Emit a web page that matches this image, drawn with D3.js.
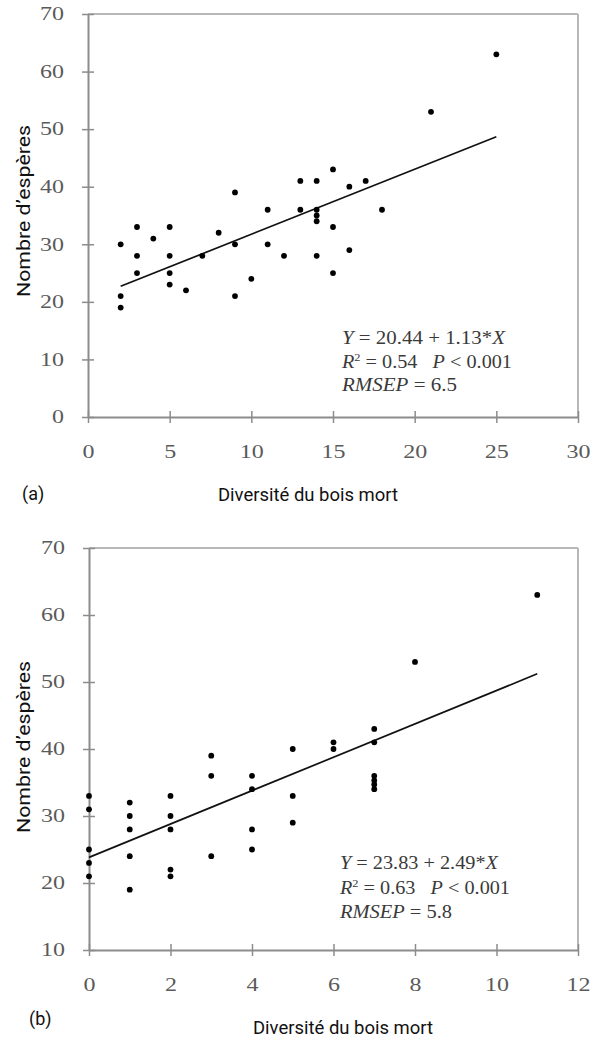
<!DOCTYPE html>
<html><head><meta charset="utf-8">
<script src="https://cdn.jsdelivr.net/npm/d3@7"></script>
<style>body{margin:0;background:#fff}svg{display:block}</style>
</head><body><svg id="c" width="604" height="1038"></svg>
<script>
// ---- data (a) ----
const aX = [2,2,2,3,3,3,4,5,5,5,5,6,7,8,9,9,9,10,11,11,12,13,13,14,14,14,14,14,15,15,15,16,16,17,18,21,25];
const aY = [30,21,19,33,28,25,31,33,28,25,23,22,28,32,39,30,21,24,36,30,28,41,36,41,36,35,34,28,43,33,25,40,29,41,36,53,63];
const aXTicks = [0,5,10,15,20,25,30];
const aYTicks = [0,10,20,30,40,50,60,70];
const aCoef = [20.44, 1.13];
const aFitRange = [2, 25];
const aStats = ["20.44", "1.13", "0.54", "0.001", "6.5"];
// ---- data (b) ----
const bX = [0,0,0,0,0,1,1,1,1,1,2,2,2,2,2,3,3,3,4,4,4,4,5,5,5,6,6,7,7,7,7,7,7,8,11];
const bY = [33,31,25,23,21,32,30,28,24,19,33,30,28,22,21,39,36,24,36,34,28,25,40,33,29,41,40,43,41,36,35.3,34.7,34,53,63];
const bXTicks = [0,2,4,6,8,10,12];
const bYTicks = [10,20,30,40,50,60,70];
const bCoef = [23.83, 2.49];
const bFitRange = [0, 11];
const bStats = ["23.83", "2.49", "0.63", "0.001", "5.8"];

const xTitle = "Diversité du bois mort";
const yTitle = "Nombre d’espères";

const svg = d3.select("#c");

function panel(o){
  const x = d3.scaleLinear().domain(o.xd).range([o.left, o.right]);
  const y = d3.scaleLinear().domain(o.yd).range([o.bottom, o.top]);
  const g = svg.append("g");
  g.append("line").attr("x1",o.left).attr("x2",o.right).attr("y1",o.top).attr("y2",o.top)
    .attr("stroke","#b8b8b8").attr("stroke-width",2);
  g.append("line").attr("x1",o.right).attr("x2",o.right).attr("y1",o.top).attr("y2",o.bottom)
    .attr("stroke","#b8b8b8").attr("stroke-width",2);
  const ax = g.append("g").attr("transform",`translate(0,${o.bottom})`)
    .call(d3.axisBottom(x).tickValues(o.xt).tickSizeInner(6).tickSizeOuter(0).tickPadding(22).tickFormat(d3.format("d")));
  const ay = g.append("g").attr("transform",`translate(${o.left},0)`)
    .call(d3.axisLeft(y).tickValues(o.yt).tickSizeInner(6).tickSizeOuter(0).tickPadding(18).tickFormat(d3.format("d")));
  [ax, ay].forEach(a=>{
    a.select(".domain").attr("stroke","#8c8c8c").attr("stroke-width",2);
    a.selectAll(".tick line").attr("stroke","#8c8c8c").attr("stroke-width",1.5);
    a.selectAll(".tick text").attr("fill","#5a5a5a")
      .style("font-family","'Liberation Serif', serif").style("font-size","18px")
      .attr("textLength",d=>String(d).length*12).attr("lengthAdjust","spacingAndGlyphs");
  });
  ax.selectAll(".tick line").attr("y1",-6);
  ay.selectAll(".tick line").attr("x1",6);
  g.append("line")
    .attr("x1",x(o.fr[0])).attr("y1",y(o.coef[0]+o.coef[1]*o.fr[0]))
    .attr("x2",x(o.fr[1])).attr("y2",y(o.coef[0]+o.coef[1]*o.fr[1]))
    .attr("stroke","#111").attr("stroke-width",1.7);
  g.selectAll("circle.d").data(o.xs.map((v,i)=>[v,o.ys[i]])).join("circle")
    .attr("cx",d=>x(d[0])).attr("cy",d=>y(d[1])).attr("r",2.9).attr("fill","#000");
  const s = o.stats;
  const t = g.append("g").attr("transform",`translate(${o.annX},${o.annY})`)
    .style("font-family","'Liberation Serif', serif").style("font-size","18px").attr("fill","#3a3a3a")
    .style("white-space","pre");
  const l1 = t.append("text").attr("y",0).attr("textLength",o.w[0]).attr("lengthAdjust","spacingAndGlyphs");
  l1.append("tspan").style("font-style","italic").text("Y");
  l1.append("tspan").text(` = ${s[0]} + ${s[1]}*`);
  l1.append("tspan").style("font-style","italic").text("X");
  const l2 = t.append("text").attr("y",o.lh).attr("textLength",o.w[1]).attr("lengthAdjust","spacingAndGlyphs");
  l2.append("tspan").style("font-style","italic").text("R");
  l2.append("tspan").attr("dy",-7).style("font-size","11px").text("2");
  l2.append("tspan").attr("dy",7).text(` = ${s[2]}\u00a0\u00a0 `);
  l2.append("tspan").style("font-style","italic").text("P");
  l2.append("tspan").text(` < ${s[3]}`);
  const l3 = t.append("text").attr("y",o.lh*2).attr("textLength",o.w[2]).attr("lengthAdjust","spacingAndGlyphs");
  l3.append("tspan").style("font-style","italic").text("RMSEP");
  l3.append("tspan").text(` = ${s[4]}`);
  const sans = txt => txt.style("font-family","Roboto, sans-serif").style("font-size","18px").attr("fill","#111");
  sans(svg.append("text").attr("x",o.xtX).attr("y",o.xtY).attr("textLength",180).attr("lengthAdjust","spacingAndGlyphs").text(xTitle));
  sans(svg.append("text").attr("x",o.tagX).attr("y",o.tagY).text(o.tag));
  sans(svg.append("text").attr("transform",`translate(30,${o.ytY}) rotate(-90)`).attr("text-anchor","middle")
    .attr("textLength",172).attr("lengthAdjust","spacingAndGlyphs").text(yTitle));
}

panel({xd:[0,30], yd:[0,70], left:88, right:578, top:14, bottom:417,
  xt:aXTicks, yt:aYTicks, xs:aX, ys:aY, coef:aCoef, fr:aFitRange, stats:aStats,
  annX:342, annY:344, lh:23.5, w:[163,170,115], xtX:218, xtY:501, ytY:211, tag:"(a)", tagX:22, tagY:500});
panel({xd:[0,12], yd:[10,70], left:89, right:578, top:548, bottom:950,
  xt:bXTicks, yt:bYTicks, xs:bX, ys:bY, coef:bCoef, fr:bFitRange, stats:bStats,
  annX:340, annY:869, lh:24.5, w:[158,170,112], xtX:253, xtY:1034, ytY:747, tag:"(b)", tagX:29, tagY:1025});
</script></body></html>
